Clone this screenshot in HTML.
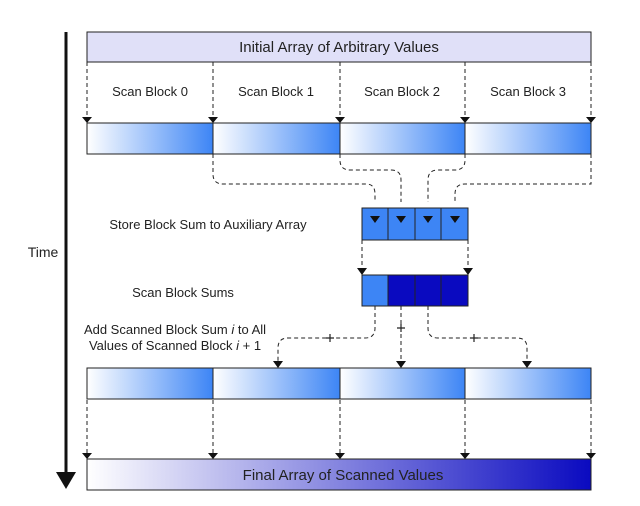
<!DOCTYPE html>
<html><head><style>body{margin:0;background:#fff}svg{display:block}</style></head><body>
<svg width="640" height="506" viewBox="0 0 640 506" xmlns="http://www.w3.org/2000/svg" font-family="Liberation Sans, sans-serif">
<defs>
<linearGradient id="g" x1="0" x2="1" y1="0" y2="0"><stop offset="0" stop-color="#ffffff"/><stop offset="1" stop-color="#3d85f5"/></linearGradient>
<linearGradient id="f" x1="0" x2="1" y1="0" y2="0"><stop offset="0" stop-color="#ffffff"/><stop offset="1" stop-color="#0a0ac0"/></linearGradient>
</defs>
<line x1="66" y1="32" x2="66" y2="474" stroke="#111" stroke-width="3"/>
<path d="M56,472 L76,472 L66,489z" fill="#111"/>
<text x="43" y="257" font-size="14" text-anchor="middle" fill="#222">Time</text>
<rect x="87" y="32" width="504" height="30" fill="#e0e0f8" stroke="#222"/>
<text x="339" y="52" font-size="15" text-anchor="middle" fill="#222">Initial Array of Arbitrary Values</text>
<g font-size="13" text-anchor="middle" fill="#222">
<text x="150" y="96">Scan Block 0</text><text x="276" y="96">Scan Block 1</text><text x="402" y="96">Scan Block 2</text><text x="528" y="96">Scan Block 3</text>
<text x="208" y="229">Store Block Sum to Auxiliary Array</text>
<text x="183" y="297">Scan Block Sums</text>
<text x="175" y="334">Add Scanned Block Sum <tspan font-style="italic">i</tspan> to All</text>
<text x="175" y="350">Values of Scanned Block <tspan font-style="italic">i</tspan> + 1</text>
</g>
<g stroke="#222" stroke-dasharray="4,3" fill="none">
<path d="M87,62V117M213,62V117M340,62V117M465,62V117M591,62V117"/>
<path d="M87,400V453M213,400V453M340,400V453M465,400V453M591,400V453"/>
<path d="M213,154V174Q213,184 223,184H366Q375,184 375,194V202"/>
<path d="M340,154V160Q340,170 350,170H391Q401,170 401,180V202"/>
<path d="M465,154V160Q465,170 455,170H438Q428,170 428,180V202"/>
<path d="M591,154V184H465Q455,184 455,194V202"/>
<path d="M362,240V269M468,240V269"/>
<path d="M375,306V328Q375,338 365,338H288Q278,338 278,348V362"/>
<path d="M401,306V362"/>
<path d="M428,306V328Q428,338 438,338H517Q527,338 527,348V362"/>
</g>
<g fill="#111">
<path d="M82,117h10l-5,6zM208,117h10l-5,6zM335,117h10l-5,6zM460,117h10l-5,6zM586,117h10l-5,6z"/>
<path d="M82,453h10l-5,6zM208,453h10l-5,6zM335,453h10l-5,6zM460,453h10l-5,6zM586,453h10l-5,6z"/>
<path d="M357,268h10l-5,7zM463,268h10l-5,7z"/>
<path d="M273,361h10l-5,7zM396,361h10l-5,7zM522,361h10l-5,7z"/>
</g>
<g stroke="#222" stroke-width="1.2"><path d="M326,338h8M330,334v8M397,328h8M401,324v8M470,338h8M474,334v8"/></g>
<g stroke="#222" fill="url(#g)">
<rect x="87" y="123" width="126" height="31"/><rect x="213" y="123" width="127" height="31"/><rect x="340" y="123" width="125" height="31"/><rect x="465" y="123" width="126" height="31"/>
<rect x="87" y="368" width="126" height="31"/><rect x="213" y="368" width="127" height="31"/><rect x="340" y="368" width="125" height="31"/><rect x="465" y="368" width="126" height="31"/>
</g>
<g stroke="#222" fill="#3d85f5">
<rect x="362" y="208" width="26" height="32"/><rect x="388" y="208" width="27" height="32"/><rect x="415" y="208" width="26" height="32"/><rect x="441" y="208" width="27" height="32"/>
<rect x="362" y="275" width="26" height="31"/>
<rect x="388" y="275" width="27" height="31" fill="#0a0ac0"/><rect x="415" y="275" width="26" height="31" fill="#0a0ac0"/><rect x="441" y="275" width="27" height="31" fill="#0a0ac0"/>
</g>
<g fill="#111"><path d="M370,216h10l-5,7zM396,216h10l-5,7zM423,216h10l-5,7zM450,216h10l-5,7z"/></g>
<rect x="87" y="459" width="504" height="31" fill="url(#f)" stroke="#222"/>
<text x="343" y="480" font-size="15" text-anchor="middle" fill="#222">Final Array of Scanned Values</text>
</svg>
</body></html>
